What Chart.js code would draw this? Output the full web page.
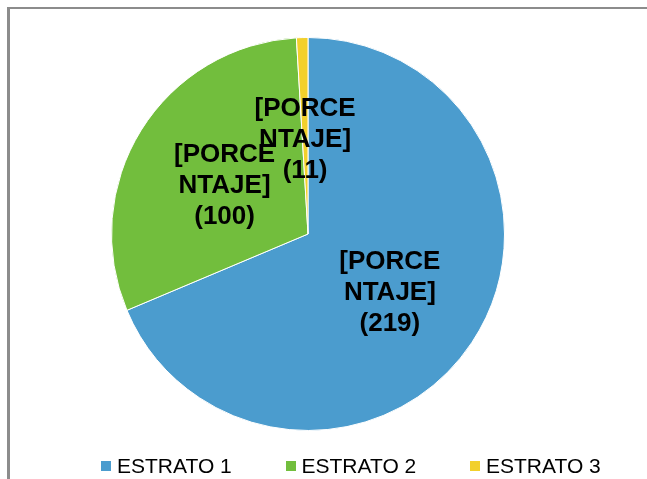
<!DOCTYPE html>
<html>
<head>
<meta charset="utf-8">
<script src="https://cdn.jsdelivr.net/npm/chart.js@4"></script>
<style>
  body { margin: 0; background: #fff; font-family: "Liberation Sans", Arial, sans-serif; }
  #wrap { position: relative; width: 647px; height: 479px; overflow: hidden; }
  #frame { position: absolute; left: 7px; top: 7px; width: 700px; height: 520px;
           border-top: 2px solid #8c8c8c; border-left: 3px solid #8c8c8c; }
  #chart { position: absolute; left: 0; top: 0; }
  #legend { position: absolute; left: 101px; top: 454px; display: flex; font-size: 21px; color: #000; }
  .item { display: flex; align-items: center; width: 184.5px; height: 24px; }
  .box { width: 10px; height: 10px; margin-right: 6px; }
</style>
</head>
<body>
<div id="wrap">
  <div id="frame"></div>
  <canvas id="chart" width="647" height="479"></canvas>
  <div id="legend"></div>
</div>
<script>
// slice sizes as drawn, and the numbers written in the data labels
const categories = ['ESTRATO 1', 'ESTRATO 2', 'ESTRATO 3'];
const sliceValues = [219, 97, 3];
const labelNumbers = [219, 100, 11];
const colors = ['#4b9cce', '#72be3d', '#f2d02c'];

// Excel style data labels: "[PORCENTAJE] (n)" wrapped in three lines
const pieLabels = {
  id: 'pieLabels',
  afterDatasetsDraw(chart) {
    const ctx = chart.ctx;
    const meta = chart.getDatasetMeta(0);
    ctx.save();
    ctx.font = 'bold 26px "Liberation Sans", Arial, sans-serif';
    ctx.fillStyle = '#000';
    ctx.textAlign = 'center';
    ctx.textBaseline = 'middle';
    meta.data.forEach((arc, i) => {
      const p = arc.getProps(['x', 'y', 'startAngle', 'endAngle', 'outerRadius'], true);
      const mid = (p.startAngle + p.endAngle) / 2;
      const cx = p.x + Math.cos(mid) * p.outerRadius * 0.5;
      const cy = p.y + Math.sin(mid) * p.outerRadius * 0.5 + 4;
      const lines = ['[PORCE', 'NTAJE]', '(' + labelNumbers[i] + ')'];
      lines.forEach((t, j) => ctx.fillText(t, cx, cy + (j - 1) * 31));
    });
    ctx.restore();
  }
};

new Chart(document.getElementById('chart'), {
  type: 'pie',
  data: {
    labels: categories,
    datasets: [{
      data: sliceValues,
      backgroundColor: colors,
      borderColor: '#ffffff',
      borderWidth: 1
    }]
  },
  options: {
    responsive: false,
    animation: false,
    layout: { padding: { top: 37, bottom: 48, left: 0, right: 31 } },
    plugins: {
      legend: { display: false },
      tooltip: { enabled: false }
    }
  },
  plugins: [pieLabels]
});

// legend under the pie
const legend = document.getElementById('legend');
categories.forEach((name, i) => {
  const item = document.createElement('div');
  item.className = 'item';
  const box = document.createElement('span');
  box.className = 'box';
  box.style.background = colors[i];
  const txt = document.createElement('span');
  txt.textContent = name;
  item.appendChild(box);
  item.appendChild(txt);
  legend.appendChild(item);
});
</script>
</body>
</html>
